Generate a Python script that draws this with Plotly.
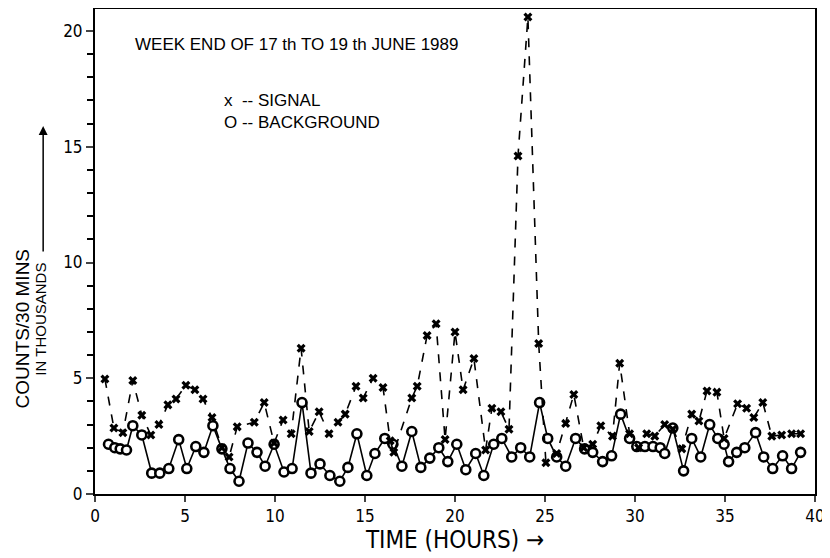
import plotly.graph_objects as go

# Signal counts (thousands per 30 min)
sig_time = [0.55, 1.05, 1.55, 2.1, 2.6, 3.1, 3.55, 4.05, 4.5, 5.05, 5.55, 6.0, 6.5, 7.05, 7.45,
            7.9, 8.85, 9.4, 9.95, 10.45, 10.9, 11.45, 11.9, 12.45, 13.0, 13.5, 13.9, 14.5, 14.9,
            15.45, 16.0, 16.4, 16.6, 17.6, 17.9, 18.45, 18.95, 19.45, 20.0, 20.45, 21.05, 21.7,
            22.05, 22.55, 23.0, 23.5, 24.05, 24.65, 25.05, 25.65, 26.15, 26.6, 27.15, 27.65,
            28.1, 28.75, 29.15, 29.7, 30.2, 30.65, 31.1, 31.65, 32.1, 32.6, 33.15, 33.55, 34.0,
            34.55, 34.95, 35.7, 36.2, 36.6, 37.1, 37.6, 38.15, 38.7, 39.2]
sig_counts = [4.97, 2.85, 2.65, 4.9, 3.4, 2.55, 3.0, 3.85, 4.1, 4.7, 4.5, 4.1, 3.3, 2.0, 1.6,
              2.9, 3.1, 3.95, 2.2, 3.2, 2.6, 6.3, 2.7, 3.55, 2.6, 3.1, 3.45, 4.65, 4.15,
              5.0, 4.6, 2.3, 1.8, 4.15, 4.65, 6.85, 7.35, 2.35, 7.0, 4.5, 5.85, 1.9,
              3.7, 3.55, 2.8, 14.6, 20.6, 6.5, 1.35, 1.75, 3.05, 4.3, 2.0, 2.15,
              2.95, 2.5, 5.65, 2.6, 2.0, 2.6, 2.5, 3.0, 2.8, 1.95, 3.45, 3.15, 4.45,
              4.4, 2.4, 3.9, 3.7, 3.3, 3.95, 2.5, 2.55, 2.6, 2.6]

# Background counts
bg_time = [0.75, 1.1, 1.4, 1.75, 2.1, 2.6, 3.15, 3.6, 4.1, 4.65, 5.1, 5.6, 6.05, 6.55, 7.05,
           7.5, 8.0, 8.5, 9.0, 9.45, 9.95, 10.5, 10.95, 11.5, 12.0, 12.5, 13.05, 13.6, 14.05,
           14.55, 15.1, 15.55, 16.1, 16.55, 17.05, 17.6, 18.1, 18.6, 19.1, 19.6, 20.1, 20.6,
           21.15, 21.6, 22.15, 22.6, 23.15, 23.65, 24.15, 24.7, 25.15, 25.65, 26.15, 26.7,
           27.2, 27.65, 28.2, 28.7, 29.2, 29.7, 30.1, 30.55, 31.0, 31.4, 31.65, 32.1, 32.7,
           33.15, 33.65, 34.15, 34.6, 34.95, 35.2, 35.65, 36.1, 36.7, 37.15, 37.65, 38.2,
           38.7, 39.2]
bg_counts = [2.15, 2.0, 1.95, 1.9, 2.95, 2.55, 0.9, 0.9, 1.1, 2.35, 1.1, 2.05, 1.8, 2.95, 1.95,
             1.1, 0.55, 2.2, 1.8, 1.2, 2.15, 0.95, 1.1, 3.95, 0.9, 1.3, 0.8, 0.55, 1.15,
             2.6, 0.8, 1.75, 2.4, 2.15, 1.2, 2.7, 1.15, 1.55, 2.0, 1.4, 2.15, 1.05,
             1.75, 0.8, 2.15, 2.4, 1.6, 2.0, 1.6, 3.95, 2.4, 1.6, 1.2, 2.4,
             1.95, 1.8, 1.4, 1.65, 3.45, 2.4, 2.05, 2.05, 2.05, 2.0, 1.75, 2.85, 1.0,
             2.4, 1.6, 3.0, 2.4, 2.15, 1.4, 1.8, 2.0, 2.65, 1.6, 1.1, 1.65,
             1.1, 1.8]

x_ticks = [0, 5, 10, 15, 20, 25, 30, 35, 40]
y_ticks = [0, 5, 10, 15, 20]

narrow = "DejaVu Sans Condensed, Liberation Sans Narrow, sans-serif"
plain = "Liberation Sans, Arial, sans-serif"

fig = go.Figure()

fig.add_trace(go.Scatter(
    x=bg_time, y=bg_counts, mode="lines+markers", name="BACKGROUND",
    line=dict(color="black", width=1.6),
    marker=dict(symbol="circle", size=9, color="white", line=dict(color="black", width=2.6)),
))

fig.add_trace(go.Scatter(
    x=sig_time, y=sig_counts, mode="lines+markers", name="SIGNAL",
    line=dict(color="black", width=1.6, dash="dash"),
    marker=dict(symbol="x", size=8, color="black"),
))

# page body has an 8px margin, so the figure is sized to 822x550
fig.update_layout(
    width=822, height=550,
    margin=dict(l=87, r=15, t=1, b=64, autoexpand=False),
    paper_bgcolor="white", plot_bgcolor="white",
    showlegend=False,
    font=dict(family=narrow, color="black", size=15),
    xaxis=dict(
        range=[0, 40], tickvals=x_ticks, ticks="outside", ticklen=6, tickwidth=1.5,
        showgrid=False, zeroline=False, showline=True, linecolor="black", linewidth=2,
        mirror=True, tickfont=dict(family=narrow, size=17),
        title=dict(text="TIME (HOURS) \u2192", font=dict(family=narrow, size=24), standoff=5),
    ),
    yaxis=dict(
        range=[0, 20.95], tickvals=y_ticks, ticks="outside", ticklen=7, tickwidth=1.5,
        minor=dict(dtick=1, ticks="outside", ticklen=6, tickcolor="black", tickwidth=1.5),
        showgrid=False, zeroline=False, showline=True, linecolor="black", linewidth=2,
        mirror=True, tickfont=dict(family=narrow, size=17),
    ),
)

fig.add_annotation(x=0.053, y=0.926, xref="paper", yref="paper", xanchor="left",
                   yanchor="middle", text="WEEK END OF 17 th TO 19 th JUNE 1989",
                   showarrow=False, font=dict(family=plain, size=17))
fig.add_annotation(x=0.176, y=0.788, xref="paper", yref="paper", xanchor="left",
                   yanchor="middle", text="x  -- SIGNAL<br>O -- BACKGROUND", align="left",
                   showarrow=False, font=dict(family=plain, size=17))

# y-axis label (two rotated lines) with an upward arrow
fig.add_annotation(x=-0.101, y=0.34, xref="paper", yref="paper", xanchor="center",
                   yanchor="middle", text="COUNTS/30 MINS", textangle=-90, showarrow=False,
                   font=dict(family=plain, size=19))
fig.add_annotation(x=-0.076, y=0.36, xref="paper", yref="paper", xanchor="center",
                   yanchor="middle", text="IN THOUSANDS", textangle=-90, showarrow=False,
                   font=dict(family=plain, size=15))
fig.add_annotation(x=-0.072, y=0.759, xref="paper", yref="paper", ax=0, ay=127,
                   text="", showarrow=True, arrowhead=2, arrowsize=1.2, arrowwidth=1.5,
                   arrowcolor="black")

fig.write_html("out.html")
